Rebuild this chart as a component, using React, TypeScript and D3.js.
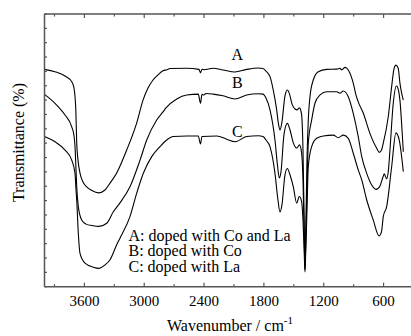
import React from 'react';
import * as d3 from 'd3';

// Wavenumber (cm^-1), transmittance (arbitrary %, offset curves)
const curveA: [number, number][] = [
  [4000, 75.7], [3895, 74.9], [3794, 73.4], [3727, 71.4], [3704, 69.2], [3694, 66.2], [3686, 61.6],
  [3677, 50.1], [3664, 44.1], [3644, 39.6], [3614, 36.5], [3577, 34.8], [3524, 33.5], [3459, 32.7],
  [3393, 33.7], [3343, 36.1], [3276, 39.6], [3176, 47.6], [3076, 57.0], [3012, 65.0], [2962, 69.2],
  [2912, 72.0], [2862, 73.8], [2812, 75.2], [2772, 75.6], [2742, 76.0], [2574, 76.1], [2451, 75.7],
  [2436, 74.5], [2421, 75.7], [2401, 75.6], [2310, 76.1], [2210, 75.5], [2090, 74.8], [1973, 75.7],
  [1859, 76.2], [1809, 76.0], [1779, 75.1], [1739, 73.2], [1706, 68.5], [1672, 61.6], [1654, 56.7],
  [1639, 54.6], [1619, 57.4], [1589, 66.4], [1565, 68.5], [1543, 67.1], [1518, 63.6], [1488, 61.9],
  [1468, 61.6], [1443, 62.3], [1423, 60.2], [1408, 47.6], [1395, 19.8], [1388, 6.5], [1380, 19.8],
  [1368, 44.1], [1355, 58.1], [1338, 66.2], [1305, 72.0], [1255, 74.9], [1170, 75.7], [1070, 75.8],
  [1037, 76.1], [1020, 75.5], [987, 76.4], [954, 75.5], [904, 70.9], [877, 66.8], [854, 64.4],
  [803, 60.4], [737, 53.4], [669, 48.2], [643, 46.8], [621, 47.6], [603, 50.0], [553, 59.2],
  [519, 69.7], [496, 75.8], [476, 77.2], [453, 76.1], [436, 70.9], [415, 66.8], [402, 65.0],
];

const curveB: [number, number][] = [
  [4000, 67.0], [3895, 63.9], [3794, 59.8], [3727, 55.7], [3704, 52.5], [3694, 48.8], [3684, 40.7],
  [3677, 34.8], [3661, 27.9], [3627, 23.2], [3584, 21.8], [3524, 21.3], [3454, 21.0], [3376, 22.1],
  [3310, 26.1], [3243, 29.2], [3143, 34.8], [3042, 44.1], [2975, 51.1], [2875, 58.1], [2812, 60.9],
  [2782, 62.3], [2674, 65.4], [2574, 66.8], [2458, 67.1], [2436, 63.9], [2421, 67.0], [2401, 66.8],
  [2381, 67.3], [2310, 67.1], [2210, 66.5], [2090, 65.4], [1973, 66.8], [1856, 67.2], [1809, 67.1],
  [1779, 65.7], [1739, 61.6], [1689, 51.1], [1664, 42.4], [1646, 37.9], [1629, 39.9], [1599, 52.9],
  [1565, 56.9], [1538, 54.6], [1505, 50.1], [1471, 48.3], [1443, 49.4], [1423, 46.9], [1408, 37.2],
  [1395, 16.3], [1388, 5.8], [1380, 16.3], [1368, 33.7], [1355, 50.0], [1321, 58.1], [1288, 63.9],
  [1237, 66.8], [1170, 67.9], [1070, 67.9], [1037, 67.4], [1004, 68.2], [954, 66.2], [904, 60.4],
  [854, 52.3], [819, 45.3], [769, 39.5], [719, 35.4], [676, 33.9], [636, 35.1], [606, 38.2],
  [593, 39.3], [569, 37.6], [551, 40.7], [536, 47.6], [503, 63.9], [471, 69.9], [451, 68.5],
  [436, 65.0], [415, 54.6], [402, 47.0],
];

const curveC: [number, number][] = [
  [4000, 52.3], [3895, 50.5], [3794, 47.6], [3727, 44.1], [3694, 39.5], [3684, 33.7], [3677, 30.2],
  [3661, 18.6], [3644, 11.6], [3594, 8.2], [3511, 6.8], [3451, 6.4], [3393, 7.6], [3343, 9.4],
  [3276, 14.6], [3243, 16.9], [3143, 24.4], [3076, 32.5], [3009, 39.5], [2925, 45.3], [2842, 48.8],
  [2775, 51.1], [2709, 52.3], [2574, 52.5], [2458, 52.5], [2436, 49.7], [2421, 52.3], [2273, 52.5],
  [2173, 51.4], [2090, 50.5], [1973, 52.3], [1856, 52.6], [1809, 52.3], [1779, 51.1], [1739, 48.8],
  [1689, 39.5], [1659, 30.2], [1639, 26.0], [1619, 28.5], [1589, 38.9], [1565, 41.2], [1538, 38.9],
  [1505, 34.8], [1471, 29.1], [1445, 31.4], [1423, 29.9], [1408, 23.2], [1395, 11.0], [1388, 5.1],
  [1380, 12.8], [1368, 26.7], [1355, 41.8], [1321, 48.8], [1271, 51.7], [1205, 52.5], [1104, 52.8],
  [1054, 51.9], [1004, 52.8], [954, 51.7], [904, 46.5], [854, 40.7], [819, 37.2], [769, 30.2],
  [703, 23.2], [646, 17.7], [621, 19.1], [603, 24.4], [569, 27.9], [519, 41.8], [476, 53.6],
  [443, 51.1], [402, 40.1],
];

const xMajorTicks = [3600, 3000, 2400, 1800, 1200, 600];
const xMinorTicks = [3900, 3300, 2700, 2100, 1500, 900];
const yTicks = d3.range(0, 96, 5);
const curveLabels = ['A', 'B', 'C'];
const curveLabelValues = [78.9, 69.2, 52.3];
const legendLines = ['A: doped with Co and La', 'B: doped with Co', 'C: doped with La'];

const W = 411;
const H = 336;
const left = 44.5;
const top = 14;
const bottom = 286.7;
const right = 411;

export default function App() {
  const x = d3.scaleLinear().domain([4000, 325]).range([left, right]);
  const y = d3.scaleLinear().domain([0, 95]).range([bottom, top]);
  const line = d3
    .line<[number, number]>()
    .x((d) => x(d[0]))
    .y((d) => y(d[1]))
    .curve(d3.curveMonotoneX);
  const axisColor = '#555';
  const font = '"Liberation Serif", "Times New Roman", serif';
  const curves = [curveA, curveB, curveC];
  return (
    <svg
      width={W}
      height={H}
      style={{ position: 'absolute', left: 0, top: 0, background: '#fff' }}
      fontFamily={font}
    >
      <rect x={0} y={0} width={W} height={H} fill="#fff" />
      {curves.map((c, i) => (
        <path key={i} d={line(c) || ''} fill="none" stroke="#000" strokeWidth={1.1} />
      ))}
      {/* axes */}
      <line x1={left} x2={right} y1={bottom} y2={bottom} stroke={axisColor} strokeWidth={1.5} />
      <line x1={left} x2={right} y1={top} y2={top} stroke={axisColor} strokeWidth={1.5} />
      <line x1={left} x2={left} y1={top} y2={bottom} stroke={axisColor} strokeWidth={1.5} />
      {xMajorTicks.map((t) => (
        <g key={'M' + t}>
          <line x1={x(t)} x2={x(t)} y1={bottom} y2={bottom - 4} stroke={axisColor} strokeWidth={1.2} />
          <line x1={x(t)} x2={x(t)} y1={top} y2={top + 4} stroke={axisColor} strokeWidth={1.2} />
          <text x={x(t)} y={305.5} fontSize={15} textAnchor="middle" fill="#000">
            {t}
          </text>
        </g>
      ))}
      {xMinorTicks.map((t) => (
        <g key={'m' + t}>
          <line x1={x(t)} x2={x(t)} y1={bottom} y2={bottom - 2.5} stroke={axisColor} strokeWidth={1.2} />
          <line x1={x(t)} x2={x(t)} y1={top} y2={top + 2.5} stroke={axisColor} strokeWidth={1.2} />
        </g>
      ))}
      {yTicks.map((t) => (
        <line key={'y' + t} x1={left} x2={left + 2.5} y1={y(t)} y2={y(t)} stroke={axisColor} strokeWidth={1.2} />
      ))}
      {curveLabels.map((l, i) => (
        <text key={l} x={237.3} y={y(curveLabelValues[i])} fontSize={16} textAnchor="middle" fill="#000">
          {l}
        </text>
      ))}
      {legendLines.map((l, i) => (
        <text key={l} x={128.5} y={240.7 + i * 15.5} fontSize={16} fill="#000">
          {l}
        </text>
      ))}
      <text x={230} y={330.7} fontSize={16} textAnchor="middle" fill="#000">
        Wavenumber / cm
        <tspan dy={-7} fontSize={11}>-1</tspan>
      </text>
      <text
        transform={`translate(23.5, ${142.5}) rotate(-90)`}
        fontSize={16}
        textAnchor="middle"
        fill="#000"
      >
        Transmittance (%)
      </text>
    </svg>
  );
}
